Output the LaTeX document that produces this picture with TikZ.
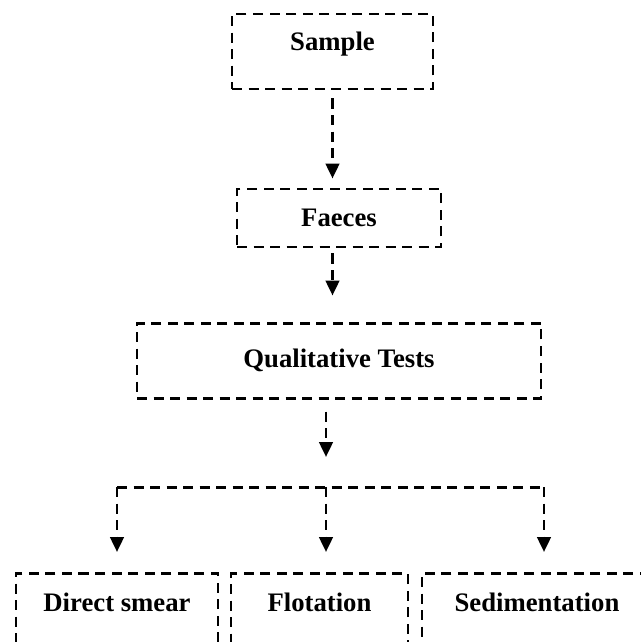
\documentclass[tikz,border=0pt]{standalone}
\usepackage{fontspec}
\setmainfont{Liberation Serif}
\usetikzlibrary{arrows.meta}

\begin{document}
\begin{tikzpicture}[
  stage/.style={draw=black, line width=1.7pt, dash pattern=on 5.7pt off 3.7pt,
                inner sep=0pt, align=center,
                font=\fontsize{15.2}{17}\selectfont\bfseries},
  method/.style={stage, anchor=north, text height=0.76cm, text depth=1.2cm},
  link/.style={-{Triangle[length=0.3cm, width=0.27cm]}, line width=1.7pt,
               dash pattern=on 5.7pt off 3.7pt},
  branch/.style={line width=1.7pt, dash pattern=on 5.7pt off 3.7pt}
]
\clip (0,0) rectangle (12.82,-12.84);
\node[stage, minimum width=4.02cm, minimum height=1.5cm, text depth=0.42cm]
  (sample) at (6.65,-1.03) {Sample};
\node[stage, minimum width=4.08cm, minimum height=1.16cm]
  (faeces) at (6.78,-4.36) {Faeces};
\node[stage, minimum width=8.08cm, minimum height=1.5cm]
  (qual) at (6.78,-7.21) {Qualitative Tests};
\node[method, minimum width=4.04cm] (smear) at (2.34,-11.44) {Direct smear};
\node[method, minimum width=3.54cm] (flot) at (6.39,-11.44) {Flotation};
\node[method, minimum width=4.6cm] (sedim) at (10.74,-11.44) {Sedimentation};
\coordinate (split) at (6.52,-9.74);
\coordinate (left) at (2.34,-9.74);
\coordinate (right) at (10.88,-9.74);
\draw[link, shorten <=0.16cm, shorten >=0.18cm]
  (sample.south) -- (sample.south |- faeces.north);
\draw[link, shorten <=0.1cm, shorten >=0.52cm]
  (sample.south |- faeces.south) -- (sample.south |- qual.north);
\draw[link, shorten <=0.24cm, shorten >=0.6cm] (split |- qual.south) -- (split);
\draw[branch] (left) -- (right);
\draw[link, shorten >=0.4cm] (left) -- (left |- smear.north);
\draw[link, shorten >=0.4cm] (split) -- (split |- flot.north);
\draw[link, shorten >=0.4cm] (right) -- (right |- sedim.north);
\end{tikzpicture}
\end{document}
